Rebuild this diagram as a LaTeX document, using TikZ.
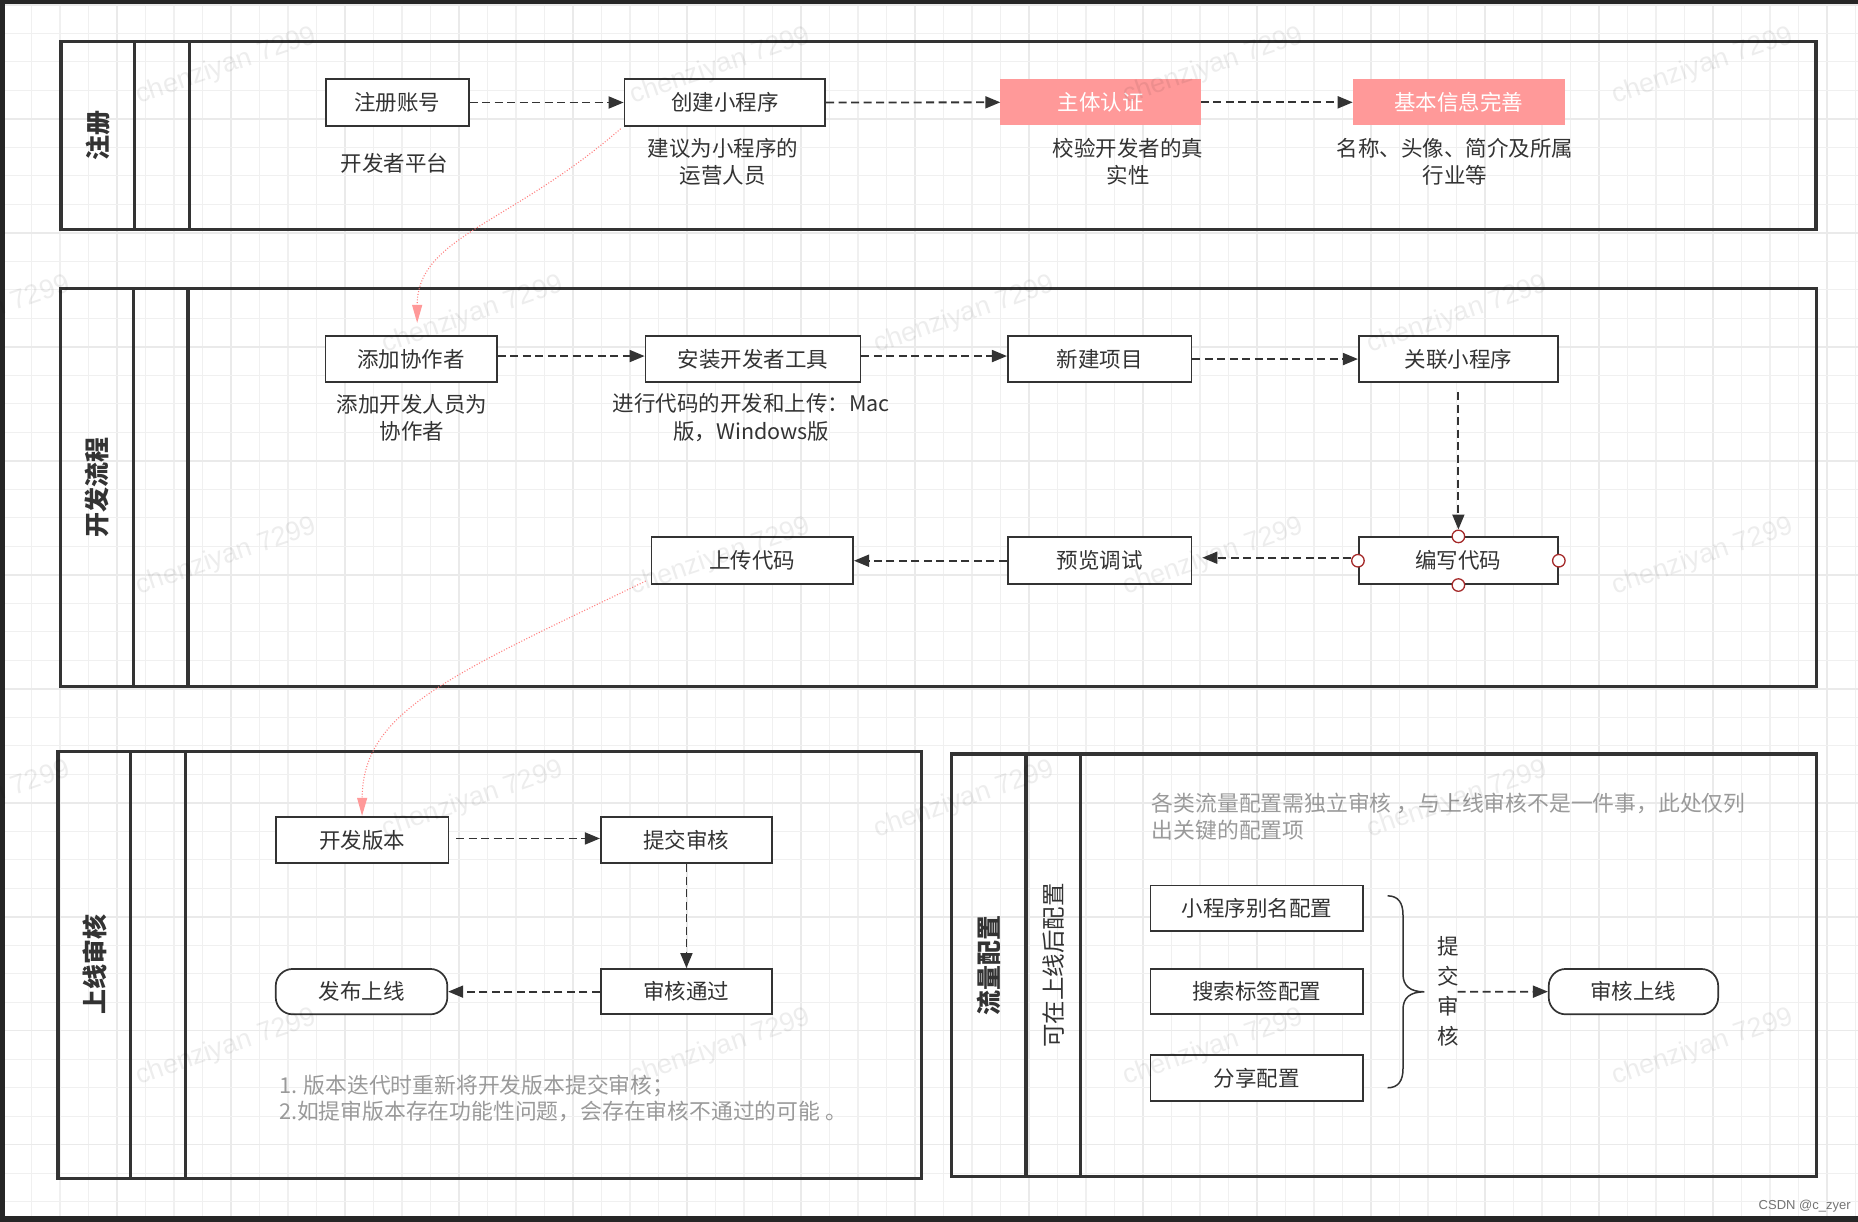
\documentclass[tikz,border=0pt]{standalone}
\usepackage{fontspec}
\setmainfont{Noto Sans CJK SC}
\newfontfamily\wmfont{Liberation Sans}
\usetikzlibrary{arrows.meta}
\definecolor{lc}{HTML}{333333}
\definecolor{txt}{HTML}{333333}
\definecolor{pinkfill}{HTML}{FF9999}
\definecolor{pinkline}{HTML}{FF7F7F}
\definecolor{portc}{HTML}{A52A2A}
\definecolor{notec}{HTML}{9A9A9A}
\definecolor{gridminor}{HTML}{F0F0F0}
\definecolor{gridmajor}{HTML}{EAEAEA}
\definecolor{framec}{HTML}{262626}
\newlength\pxu
\setlength\pxu{1.185pt}
\newcommand\boxfont{\fontsize{21.5}{27}\selectfont}
\tikzset{
  box/.style={draw=lc, line width=1.7pt, fill=white, text=txt, font=\boxfont, inner sep=0pt},
  wh/.style 2 args={minimum width={#1*\pxu}, minimum height={#2*\pxu}},
  pill/.style={box, rounded corners=17pt},
  pinkbox/.style={fill=pinkfill, draw=pinkfill, line width=1pt, text=white, font=\boxfont, inner sep=0pt},
  lbl/.style={text=txt, font=\fontsize{21.5}{27.3}\selectfont, align=center, inner sep=0pt},
  notetext/.style={text=notec, font=\fontsize{21.8}{26.5}\selectfont, align=left, anchor=west, inner sep=0pt},
  lane/.style={draw=lc, line width=3.3pt},
  lanetitle/.style={rotate=90, font=\bfseries\fontsize{25}{28}\selectfont, text=txt, inner sep=0pt},
  flow/.style={draw=lc, line width=1.8pt, dash pattern=on 8pt off 4.5pt, -{Triangle[length=15pt,width=12pt]}},
  pinkflow/.style={draw=pinkline, line width=1.1pt, dash pattern=on 1pt off 1.8pt, -{Triangle[length=18pt,width=10pt,color=pinkfill,fill=pinkfill]}},
  port/.style={circle, draw=portc, fill=white, line width=1.3pt, minimum size=12.5pt, inner sep=0pt},
  wm/.style={rotate=19, text=black, opacity=0.07, font=\wmfont\fontsize{27}{27}\selectfont, inner sep=0pt},
}
\begin{document}
\begin{tikzpicture}[x=1.185pt,y=-1.185pt]
\useasboundingbox (0,0) rectangle (1568,1031);
\fill[white] (0,0) rectangle (1568,1031);
% grid
\foreach \k in {0,...,65}{%
  \pgfmathsetmacro\gx{2.7+24.05*\k}%
  \pgfmathtruncatemacro\gm{mod(\k,4)}%
  \ifnum\gm=0
    \draw[gridmajor, line width=1.5pt] (\gx,0) -- (\gx,1031);
  \else
    \draw[gridminor, line width=1.4pt] (\gx,0) -- (\gx,1031);
  \fi
}
\foreach \k in {0,...,42}{%
  \pgfmathsetmacro\gy{4.05+24.05*\k}%
  \pgfmathtruncatemacro\gm{mod(\k,4)}%
  \ifnum\gm=0
    \draw[gridmajor, line width=1.5pt] (0,\gy) -- (1568,\gy);
  \else
    \draw[gridminor, line width=1.4pt] (0,\gy) -- (1568,\gy);
  \fi
}
% dark frame
\fill[framec] (0,0) rectangle (1568,3.4);
\fill[framec] (0,0) rectangle (4.2,1031);
\fill[framec] (0,1026.5) rectangle (1568,1031);

% ===== lanes =====
\draw[lane] (51.6,35.2) rectangle (1532.6,193.5);
\draw[lane] (113.8,35.2) -- (113.8,193.5);
\draw[lane] (160,35.2) -- (160,193.5);
\node[lanetitle] (t1) at (82.7,114.3) {注册};

\draw[lane] (51,243.3) rectangle (1533,579.5);
\draw[lane] (112.5,243.3) -- (112.5,579.5);
\draw[lane] (158.6,243.3) -- (158.6,579.5);
\node[lanetitle] (t2) at (81.8,411.4) {开发流程};

\draw[lane] (49,634.3) rectangle (777.6,994.4);
\draw[lane] (110.3,634.3) -- (110.3,994.4);
\draw[lane] (156.8,634.3) -- (156.8,994.4);
\node[lanetitle] (t3) at (79.7,814.3) {上线审核};

\draw[lane] (803,636.3) rectangle (1533,993);
\draw[lane] (865.9,636.3) -- (865.9,993);
\draw[lane] (911.8,636.3) -- (911.8,993);
\node[lanetitle] (t4) at (834.5,814.6) {流量配置};
\node[rotate=90, font=\fontsize{23.5}{26}\selectfont, text=txt, inner sep=0pt] (t4b) at (888.9,814.6) {可在上线后配置};

% ===== lane 1 =====
\node[box, wh={120.6}{39.6}] (n1) at (335.3,86.5) {注册账号};
\node[box, wh={169.5}{39.6}] (n2) at (611.75,86.5) {创建小程序};
\node[pinkbox, wh={168.4}{37.7}] (n3) at (928.8,86.35) {主体认证};
\node[pinkbox, wh={178}{37.7}] (n4) at (1231,86.35) {基本信息完善};
\node[lbl] (l1) at (333,137.5) {开发者平台};
\node[lbl] (l2) at (610,136.5) {建议为小程序的\\运营人员};
\node[lbl] (l3) at (952,136.5) {校验开发者的真\\实性};
\node[lbl] (l4) at (1228,136.5) {名称、头像、简介及所属\\行业等};
\draw[flow] (n1.east) -- (n2.west);
\draw[flow] (n2.east) -- (n3.west);
\draw[flow] (n3.east) -- (n4.west);

% ===== lane 2 =====
\node[box, wh={144.7}{39.3}] (m1) at (347,303) {添加协作者};
\node[box, wh={181.6}{39.3}] (m2) at (635.5,303) {安装开发者工具};
\node[box, wh={155}{39.3}] (m3) at (928,303) {新建项目};
\node[box, wh={168.1}{39.3}] (m4) at (1230.75,303) {关联小程序};
\node[box, wh={168.1}{39.6}] (m5) at (1230.75,473.2) {编写代码};
\node[box, wh={155}{39.6}] (m6) at (928,473.2) {预览调试};
\node[box, wh={170.2}{39.6}] (m7) at (634.9,473.2) {上传代码};
\node[port] (p1) at (m5.north) {};
\node[port] (p2) at (m5.south) {};
\node[port] (p3) at (m5.west) {};
\node[port] (p4) at (m5.east) {};
\node[lbl] (l5) at (347.5,352.3) {添加开发人员为\\协作者};
\node[lbl] (l6) at (634,352.3) {进行代码的开发和上传：Mac\\版，Windows版};
\draw[flow] ([yshift=3pt]m1.east) -- ([yshift=3pt]m2.west);
\draw[flow] ([yshift=3pt]m2.east) -- ([yshift=3pt]m3.west);
\draw[flow] (m3.east) -- (m4.west);
\draw[flow] ([yshift=-9pt]m4.south) -- (p1.north);
\draw[flow] ([yshift=3pt]p3.west) -- ([xshift=10pt,yshift=3pt]m6.east);
\draw[flow] (m6.west) -- (m7.east);

% ===== lane 3 =====
\node[box, wh={145.7}{39.3}] (k1) at (305.55,708.85) {开发版本};
\node[box, wh={144.6}{39.3}] (k2) at (579.3,708.85) {提交审核};
\node[box, wh={144.6}{38.3}] (k3) at (579.3,836.85) {审核通过};
\node[pill, wh={144.8}{38.3}] (k4) at (305.1,836.85) {发布上线};
\draw[flow] ([xshift=7pt,yshift=1.5pt]k1.east) -- ([yshift=1.5pt]k2.west);
\draw[flow] (k2.south) -- (k3.north);
\draw[flow] (k3.west) -- (k4.east);
\node[notetext] (note1) at (235.3,926.8) {1. 版本迭代时重新将开发版本提交审核；\\2.如提审版本存在功能性问题，会存在审核不通过的可能 。};

% ===== lane 4 =====
\node[notetext] (note2) at (972,689.2) {各类流量配置需独立审核 ，与上线审核不是一件事，此处仅列\\出关键的配置项};
\node[box, wh={179.5}{38.2}] (c1) at (1060.75,766.5) {小程序别名配置};
\node[box, wh={179.5}{38.3}] (c2) at (1060.75,836.85) {搜索标签配置};
\node[box, wh={179.5}{38.8}] (c3) at (1060.75,909.7) {分享配置};
\node[pill, wh={143}{38.3}] (c4) at (1378.5,836.85) {审核上线};
\draw[lc, line width=1.5pt] (1171,756) .. controls (1180,756) and (1184,762) .. (1184,772)
  -- (1184,822) .. controls (1184,832) and (1190,837) .. (1202,837)
  .. controls (1190,837) and (1184,842) .. (1184,852)
  -- (1184,902) .. controls (1184,912) and (1180,918) .. (1171,918);
\node[lbl, font=\fontsize{21.5}{30}\selectfont] (sub) at (1222,837) {提\\交\\审\\核};
\coordinate (bt) at (1230,837);
\draw[flow] (bt) -- (c4.west);

% ===== pink dotted links =====
\draw[pinkflow] ([xshift=-3pt,yshift=-2pt]n2.south west) .. controls (430,190) and (352,200) .. ([xshift=6pt,yshift=12pt]m1.north);
\draw[pinkflow] ([xshift=-5pt,yshift=4pt]m7.south west) .. controls (380,570) and (306,600) .. (k1.north);

% ===== watermarks =====
\foreach \x/\y [count=\i] in {191/56,608/56,1024/56,1437/56,
  -17/266,399/266,814/266,1230/266,
  191/470,608/470,1024/470,1437/470,
  -17/675,399/675,814/675,1230/675,
  191/884,608/884,1024/884,1437/884}{
  \node[wm] (wm-\i) at (\x,\y) {chenziyan 7299};
}
\node[font=\wmfont\fontsize{13}{13}\selectfont, text=black!55, inner sep=0pt] (csdn) at (1523,1018) {CSDN @c\_zyer};
\end{tikzpicture}
\end{document}
